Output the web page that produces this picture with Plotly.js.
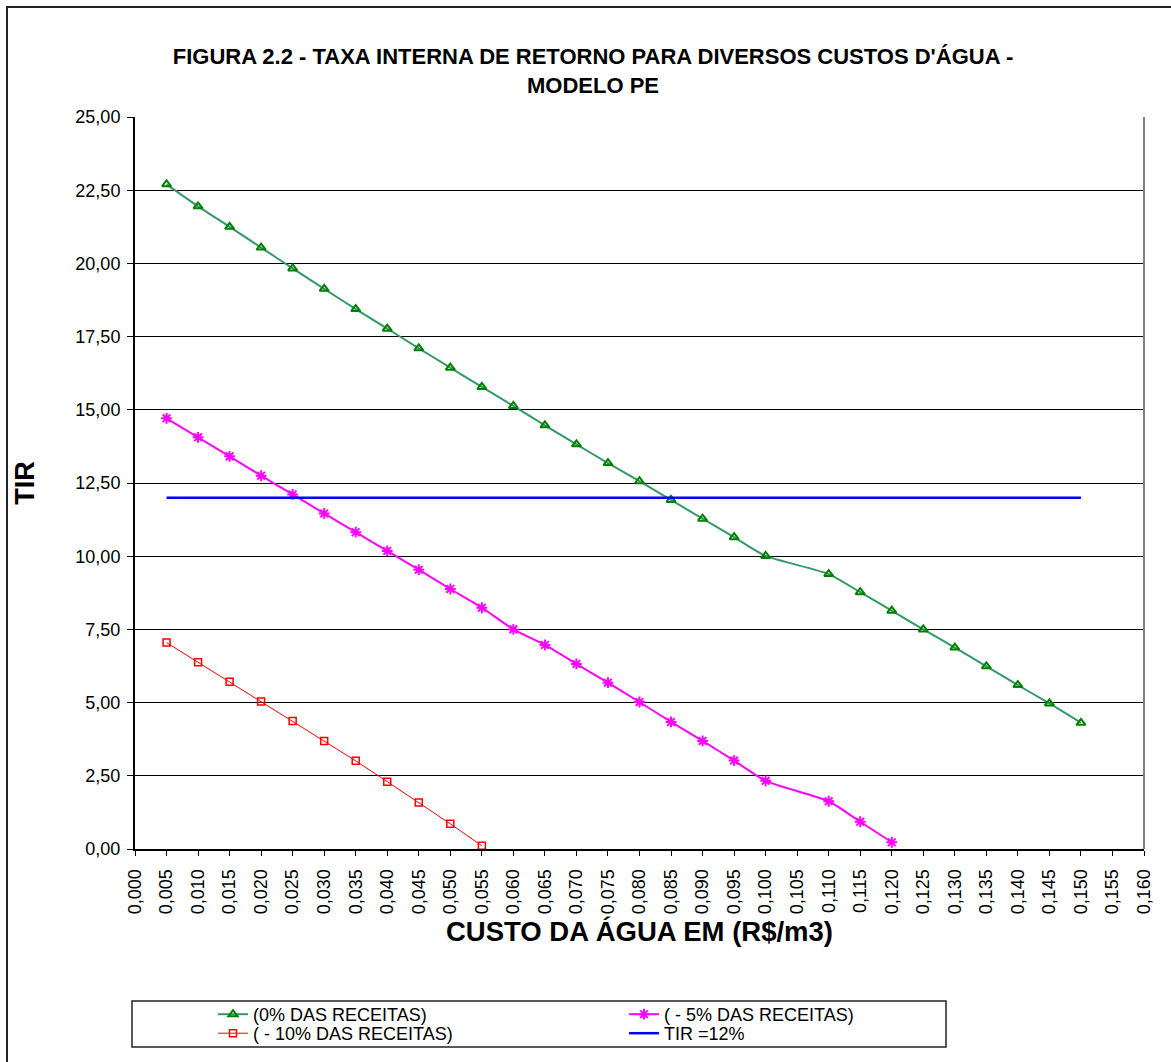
<!DOCTYPE html>
<html>
<head>
<meta charset="utf-8">
<script src="https://cdn.plot.ly/plotly-3.0.1.min.js"></script>
<style>
  html, body { margin: 0; padding: 0; background: #fff; overflow: hidden; }
  #wrap { position: relative; width: 1171px; height: 1062px; overflow: hidden; }
  #frame { position: absolute; left: 6px; top: 6px; width: 1300px; height: 1200px;
           border-left: 2px solid #222; border-top: 2px solid #222; box-sizing: border-box; pointer-events: none; }
  #chart { position: absolute; left: 0; top: 0; width: 1171px; height: 1062px; }
</style>
</head>
<body>
<div id="wrap">
  <div id="chart"></div>
  <div id="frame"></div>
</div>
<script>
// Categories: cost of water (R$/m3)
const costs = [0.005, 0.010, 0.015, 0.020, 0.025, 0.030, 0.035, 0.040, 0.045, 0.050,
               0.055, 0.060, 0.065, 0.070, 0.075, 0.080, 0.085, 0.090, 0.095, 0.100,
               0.105, 0.110, 0.115, 0.120, 0.125, 0.130, 0.135, 0.140, 0.145, 0.150];

// (0% DAS RECEITAS)
const tir0 = [22.70, 21.95, 21.25, 20.54, 19.83, 19.13, 18.44, 17.77, 17.10, 16.44,
              15.78, 15.13, 14.47, 13.82, 13.18, 12.56, 11.92, 11.28, 10.65, 10.01,
              null, 9.39, 8.77, 8.14, 7.50, 6.88, 6.24, 5.60, 4.97, 4.31];

// ( - 5% DAS RECEITAS)
const tir5 = [14.71, 14.06, 13.41, 12.75, 12.11, 11.46, 10.82, 10.18, 9.54, 8.88,
              8.24, 7.50, 6.97, 6.32, 5.68, 5.02, 4.34, 3.69, 3.02, 2.33,
              null, 1.63, 0.93, 0.23];

// ( - 10% DAS RECEITAS)
const tir10 = [7.05, 6.38, 5.71, 5.04, 4.37, 3.69, 3.01, 2.30, 1.59, 0.86, 0.11];

// TIR =12%
const tirRef = [12, 12, 12, 12, 12, 12, 12, 12, 12, 12,
                12, 12, 12, 12, 12, 12, 12, 12, 12, 12,
                12, 12, 12, 12, 12, 12, 12, 12, 12, 12];

const seriesNames = ["(0% DAS RECEITAS)", "( - 5% DAS RECEITAS)", "( - 10% DAS RECEITAS)", "TIR =12%"];

const FONT = "Liberation Sans, Arial, sans-serif";

// layout geometry (pixels)
const W = 1171, H = 1062;
const M = { l: 135, r: 27, t: 117, b: 213, autoexpand: false };
const pw = W - M.l - M.r, ph = H - M.t - M.b;
const px2x = p => (p - M.l) / pw;
const py2y = p => (H - M.b - p) / ph;

const traces = [
  {
    x: costs.slice(0, tir0.length), y: tir0, name: seriesNames[0], type: "scatter", mode: "lines+markers",
    connectgaps: true, legend: "legend",
    line: { color: "#339966", width: 2, shape: "spline", smoothing: 0.6 },
    marker: { symbol: "triangle-up-open", size: 8, color: "#008000", line: { color: "#008000", width: 2 } }
  },
  {
    x: costs.slice(0, tir5.length), y: tir5, name: seriesNames[1], type: "scatter", mode: "lines+markers",
    connectgaps: true, legend: "legend",
    line: { color: "#FF00FF", width: 2, shape: "spline", smoothing: 0.6 },
    marker: { symbol: "asterisk-open", size: 9, color: "#FF00FF", line: { color: "#FF00FF", width: 2 } }
  },
  {
    x: costs.slice(0, tir10.length), y: tir10, name: seriesNames[2], type: "scatter", mode: "lines+markers",
    legend: "legend2",
    line: { color: "#FF0000", width: 1 },
    marker: { symbol: "square-open", size: 7, color: "#FF0000", line: { color: "#FF0000", width: 1.5 } }
  },
  {
    x: costs.slice(0, tirRef.length), y: tirRef, name: seriesNames[3], type: "scatter", mode: "lines",
    legend: "legend2",
    line: { color: "#0000FF", width: 2.5 }
  }
];

const legendCommon = {
  orientation: "h",
  xref: "container", yref: "container",
  x: 213 / W, xanchor: "left", yanchor: "top",
  entrywidth: 366, entrywidthmode: "pixels",
  bgcolor: "rgba(0,0,0,0)", borderwidth: 0,
  font: { family: FONT, size: 18, color: "#000" },
  traceorder: "normal"
};

const layout = {
  width: W, height: H,
  margin: M,
  paper_bgcolor: "rgba(0,0,0,0)",
  plot_bgcolor: "#ffffff",
  separators: ",.",
  font: { family: FONT, size: 18, color: "#000" },
  title: {
    text: "FIGURA 2.2 - TAXA INTERNA DE RETORNO PARA DIVERSOS CUSTOS D'ÁGUA -<br>MODELO PE",
    font: { family: FONT, size: 22, weight: "bold", color: "#000" },
    xref: "container", x: 593 / W, xanchor: "center",
    yref: "container", y: 1 - 64 / H, yanchor: "top"
  },
  xaxis: {
    range: [0, 0.16],
    tick0: 0, dtick: 0.005,
    tickformat: ".3f",
    tickangle: -90,
    ticks: "outside", ticklen: 5, tickcolor: "#000", tickwidth: 1,
    ticklabelstandoff: 6,
    showgrid: false, zeroline: false,
    showline: true, linecolor: "#000", linewidth: 2,
    tickfont: { family: FONT, size: 18, color: "#000" },
    title: { text: "CUSTO DA ÁGUA EM (R$/m3)", font: { family: FONT, size: 27.5, weight: "bold", color: "#000" }, standoff: 9 },
    automargin: false
  },
  yaxis: {
    range: [0, 25],
    tick0: 0, dtick: 2.5,
    tickformat: ".2f",
    ticks: "outside", ticklen: 6, tickcolor: "#000", tickwidth: 1,
    ticklabelstandoff: 3,
    showgrid: true, gridcolor: "#000", gridwidth: 1,
    zeroline: false,
    showline: true, linecolor: "#000", linewidth: 2,
    tickfont: { family: FONT, size: 18, color: "#000" },
    title: { text: "TIR", font: { family: FONT, size: 27, weight: "bold", color: "#000" }, standoff: 33 },
    automargin: false
  },
  showlegend: true,
  legend: Object.assign({}, legendCommon, { y: 1 - 996 / H }),
  legend2: Object.assign({}, legendCommon, { y: 1 - 1015 / H }),
  shapes: [
    // right border of the plot area
    { type: "line", xref: "paper", yref: "paper", x0: 1, x1: 1, y0: 0, y1: 1,
      line: { color: "#808080", width: 2 } },
    // legend box
    { type: "rect", xref: "paper", yref: "paper",
      x0: px2x(132), x1: px2x(946), y0: py2y(1047), y1: py2y(1001),
      line: { color: "#222", width: 1.5 }, fillcolor: "rgba(0,0,0,0)" }
  ]
};

Plotly.newPlot("chart", traces, layout, { displayModeBar: false, staticPlot: true });
</script>
</body>
</html>
